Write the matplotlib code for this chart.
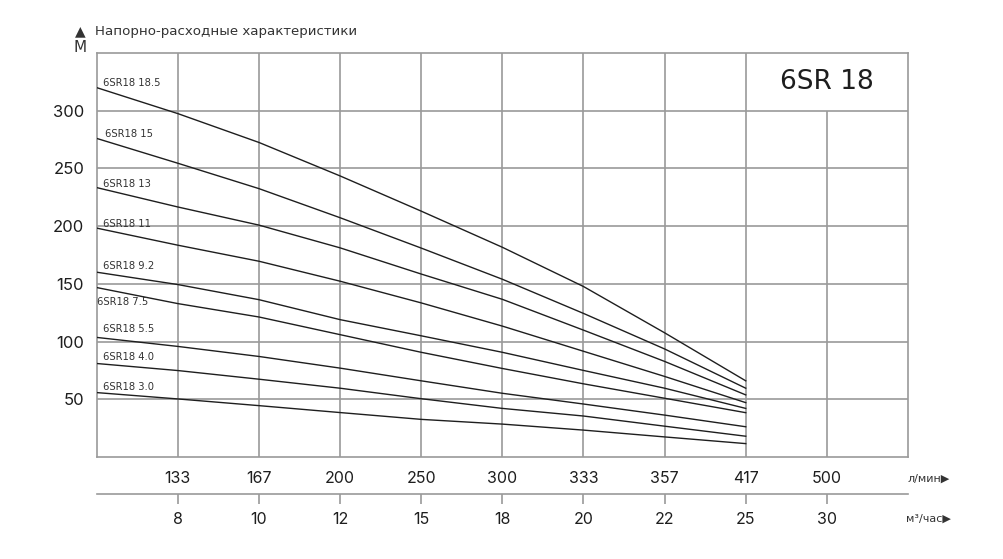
import matplotlib
matplotlib.use("Agg")
import matplotlib.pyplot as plt

plt.rcParams['font.family'] = ['Inter', 'DejaVu Sans']

# ---- data ----
positions = [0, 1, 2, 3, 4, 5, 6, 7, 8]           # evenly spaced category slots
lpm_ticks = [1, 2, 3, 4, 5, 6, 7, 8, 9]
lpm_labels = ["133", "167", "200", "250", "300", "333", "357", "417", "500"]
m3h_labels = ["8", "10", "12", "15", "18", "20", "22", "25", "30"]
y_ticks = [50, 100, 150, 200, 250, 300]

models = ["6SR18 18.5", "6SR18 15", "6SR18 13", "6SR18 11", "6SR18 9.2",
          "6SR18 7.5", "6SR18 5.5", "6SR18 4.0", "6SR18 3.0"]
head_18_5 = [320, 297.5, 272.5, 243.5, 213, 181.7, 147.7, 107.6, 66]
head_15 = [276, 254.5, 232.5, 207.3, 181, 154, 124.4, 93.6, 59.6]
head_13 = [233.4, 216.6, 200.9, 181.2, 158.5, 136.6, 109.9, 82.8, 53.8]
head_11 = [198.3, 183.5, 169.6, 152.3, 133.5, 113.4, 91.6, 69.8, 47.1]
head_9_2 = [160.1, 149.4, 136.3, 119, 105, 90.7, 75, 59.6, 42.1]
head_7_5 = [146.8, 132.9, 121.3, 106, 90.7, 76.7, 63.4, 50.9, 38.4]
head_5_5 = [103.6, 95.8, 87.1, 77, 66, 55.2, 45.9, 36.3, 26.2]
head_4_0 = [81, 74.9, 67.4, 59.6, 50.5, 42.1, 35.5, 26.7, 18.0]
head_3_0 = [55.8, 50.3, 44.5, 38.5, 32.6, 28.5, 23.3, 17.4, 11.6]
heads = [head_18_5, head_15, head_13, head_11, head_9_2,
         head_7_5, head_5_5, head_4_0, head_3_0]

title = "Напорно-расходные характеристики"
series_name = "6SR 18"

# ---- styling ----
GRID = "#9a9a9a"
INK = "#1e1e1e"
LBL = "#333333"
TXT_FONT = ['DejaVu Sans']

fig = plt.figure(figsize=(10.04, 5.59), dpi=100)
ax = fig.add_axes([96.7 / 1004, 1 - 457 / 559, (908 - 96.7) / 1004, (457 - 53) / 559])
ax.set_xlim(0, 10)
ax.set_ylim(0, 350)

for s in ax.spines.values():
    s.set_color(GRID)
    s.set_linewidth(1.2)

# grid
for yv in y_ticks:
    ax.axhline(yv, color=GRID, lw=1.2, zorder=1)
for xv in lpm_ticks:
    top = 300 if xv == 9 else 350
    ax.vlines(xv, 0, top, color=GRID, lw=1.2, zorder=1)

# curves
for name, h in zip(models, heads):
    ax.plot(positions, h, color=INK, lw=1.0, zorder=3, solid_joinstyle='round')

# curve labels (pixel y from top of figure)
label_y_px = [83, 134, 184, 224, 266, 302, 329, 357, 387]
label_x_px = [103, 105, 103, 103, 103, 97, 103, 103, 103]
for name, yp, xp in zip(models, label_y_px, label_x_px):
    fig.text(xp / 1004, 1 - yp / 559, name, fontsize=7.2, color=LBL,
             ha='left', va='center', family=TXT_FONT)

# y ticks
ax.set_yticks(y_ticks)
ax.set_yticklabels([str(v) for v in y_ticks])
ax.tick_params(axis='y', length=0, pad=9, labelsize=12, labelcolor=INK)

# primary x ticks (l/min)
ax.set_xticks(lpm_ticks)
ax.set_xticklabels(lpm_labels)
ax.tick_params(axis='x', length=0, pad=10, labelsize=11.5, labelcolor=INK)

# secondary x axis (m3/h)
sec = ax.secondary_xaxis(-37 / 404)
sec.set_xticks(lpm_ticks)
sec.set_xticklabels(m3h_labels)
sec.spines['bottom'].set_color(GRID)
sec.spines['bottom'].set_linewidth(1.2)
sec.tick_params(axis='x', direction='out', length=7, width=1.2, color=GRID,
                pad=6, labelsize=11.5, labelcolor=INK)

# unit labels
fig.text(908 / 1004, 1 - 479 / 559, "л/мин▶", fontsize=8, color=LBL,
         ha='left', va='center', family=TXT_FONT)
fig.text(906 / 1004, 1 - 519 / 559, "м³/час▶", fontsize=8, color=LBL,
         ha='left', va='center', family=TXT_FONT)

# title & axis unit
fig.text(80.5 / 1004, 1 - 31 / 559, "▲", fontsize=10, color=LBL,
         ha='center', va='center', family=['DejaVu Sans'])
fig.text(80.5 / 1004, 1 - 47 / 559, "М", fontsize=11, color=LBL,
         ha='center', va='center', family=TXT_FONT, fontweight='medium')
fig.text(95 / 1004, 1 - 32 / 559, title, fontsize=9.6, color=LBL,
         ha='left', va='center', family=TXT_FONT)

# series box label
ax.text(9.0, 325, series_name, fontsize=19, color=INK, ha='center', va='center',
        family=TXT_FONT)

fig.savefig("out.png", dpi=100)
